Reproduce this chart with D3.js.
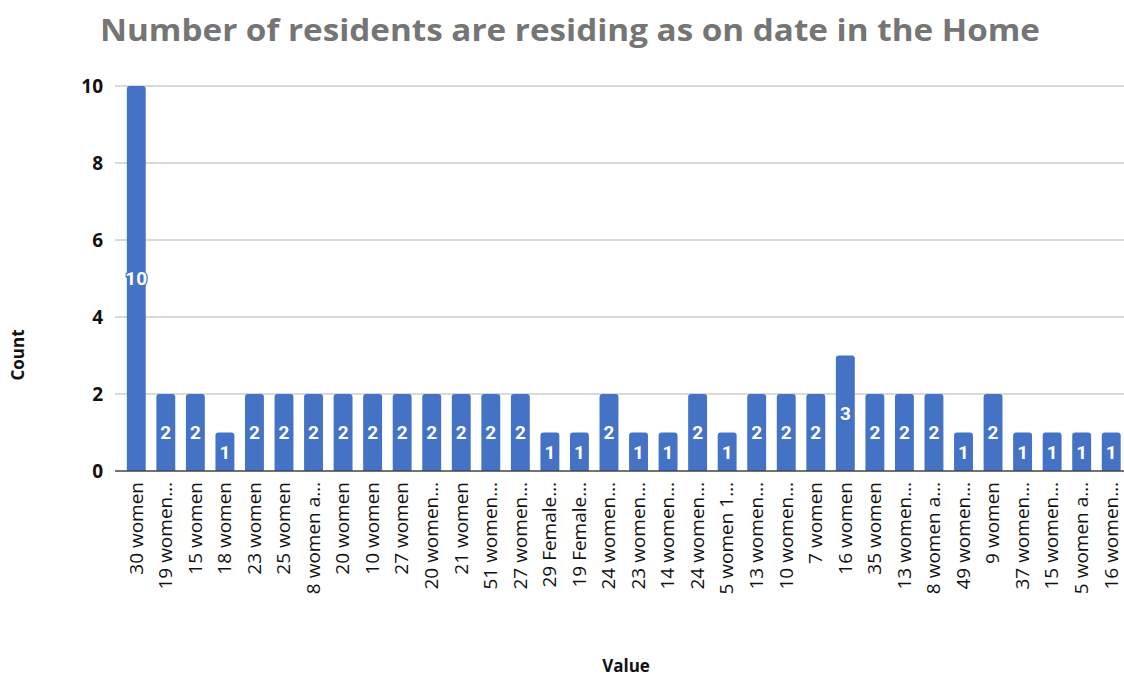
<!DOCTYPE html>
<html><head><meta charset="utf-8">
<script src="https://cdn.jsdelivr.net/npm/d3@7"></script>
<style>body{margin:0;background:#fff}svg{display:block}</style>
</head><body>
<svg id="c" width="1124" height="677"></svg>
<script>
const categories = ["30 women","19 women…","15 women","18 women","23 women","25 women","8 women a…","20 women","10 women","27 women","20 women…","21 women","51 women…","27 women…","29 Female…","19 Female…","24 women…","23 women…","14 women…","24 women…","5 women 1…","13 women…","10 women…","7 women","16 women","35 women","13 women…","8 women a…","49 women…","9 women","37 women…","15 women…","5 women a…","16 women…"];
const values = [10,2,2,1,2,2,2,2,2,2,2,2,2,2,1,1,2,1,1,2,1,2,2,2,3,2,2,2,1,2,1,1,1,1];
const yTicks = [0,2,4,6,8,10];
const title = "Number of residents are residing as on date in the Home";

const svg = d3.select("#c");
const m = {left:115, right:1124, top:86, bottom:471};
const x = d3.scaleBand().domain(categories.map((d,i)=>i)).range([121.5,1126]).paddingInner(0.36).paddingOuter(0.18);
const y = d3.scaleLinear().domain([0,10]).range([m.bottom,m.top]);
const font = "'Open Sans', 'Liberation Sans', sans-serif";

svg.append("text").attr("x",570).attr("y",41).attr("text-anchor","middle")
  .attr("font-family",font).attr("font-weight","bold").attr("font-size",30).attr("fill","#757575")
  .attr("textLength",940).attr("lengthAdjust","spacingAndGlyphs").text(title);

// grid
svg.append("g").selectAll("line").data(yTicks.filter(d=>d>0)).join("line")
  .attr("x1",m.left).attr("x2",m.right).attr("y1",d=>y(d)).attr("y2",d=>y(d))
  .attr("stroke","#cccccc").attr("stroke-width",1.3);

// y axis
const ya = svg.append("g").attr("transform",`translate(${m.left},0)`)
  .call(d3.axisLeft(y).tickValues(yTicks).tickSize(0).tickPadding(12));
ya.select(".domain").remove();
ya.selectAll("text").attr("font-family",font).attr("font-weight","bold").attr("font-size",19).attr("fill","#111");

// bars
const r = 3;
svg.append("g").selectAll("path").data(values).join("path")
  .attr("fill","#4472C4")
  .attr("d",(d,i)=>{
    const x0=x(i), w=x.bandwidth(), y0=y(d), yb=y(0);
    return `M${x0},${yb}V${y0+r}Q${x0},${y0} ${x0+r},${y0}H${x0+w-r}Q${x0+w},${y0} ${x0+w},${y0+r}V${yb}Z`;
  });

// baseline
svg.append("line").attr("x1",m.left).attr("x2",m.right).attr("y1",y(0)).attr("y2",y(0))
  .attr("stroke","#444").attr("stroke-width",1.3);

// value labels
svg.append("g").selectAll("text").data(values).join("text")
  .attr("x",(d,i)=>x(i)+x.bandwidth()/2)
  .attr("y",d=>(y(d)+y(0))/2)
  .attr("dy","0.36em").attr("text-anchor","middle")
  .attr("font-family","Roboto, sans-serif").attr("font-weight","bold").attr("font-size",19)
  .attr("fill","#fff")
  .attr("stroke",d=>d>=10?"#4472C4":"none").attr("stroke-width",2.5).attr("paint-order","stroke")
  .text(d=>d);

// x labels
svg.append("g").selectAll("text").data(categories).join("text")
  .attr("transform",(d,i)=>`translate(${x(i)+x.bandwidth()/2},482) rotate(-90)`)
  .attr("dy","0.33em").attr("text-anchor","end")
  .attr("font-family",font).attr("font-size",19).attr("fill","#111")
  .text(d=>d);

// axis titles
svg.append("text").attr("transform","translate(24,355) rotate(-90)").attr("text-anchor","middle")
  .attr("font-family",font).attr("font-weight","bold").attr("font-size",17).attr("fill","#111").text("Count");
svg.append("text").attr("x",626).attr("y",672).attr("text-anchor","middle")
  .attr("font-family",font).attr("font-weight","bold").attr("font-size",17).attr("fill","#111").text("Value");
</script>
</body></html>
